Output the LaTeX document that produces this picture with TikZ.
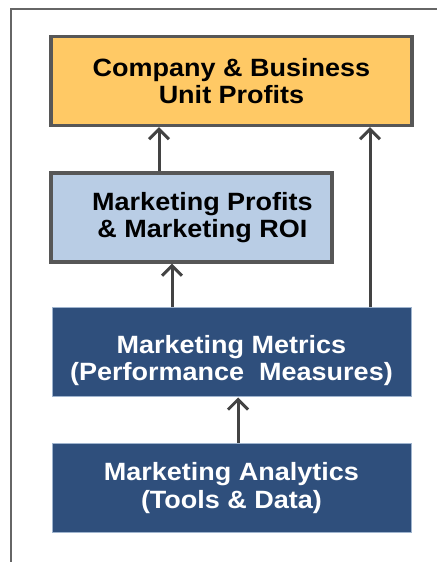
\documentclass[tikz,border=0pt]{standalone}
\usepackage{fontspec}
\setmainfont{Liberation Sans}[FakeStretch=1.08]
\usetikzlibrary{arrows.meta}

\definecolor{boxorange}{HTML}{FFC965}
\definecolor{boxlight}{HTML}{B9CDE5}
\definecolor{boxdark}{HTML}{2F4F7C}
\definecolor{boxdarkedge}{HTML}{9FB4CE}
\definecolor{edgegray}{HTML}{575757}
\definecolor{linkgray}{HTML}{434343}
\definecolor{framegray}{HTML}{666666}

\tikzset{
  box/.style={draw=edgegray, line width=1.6pt, minimum width=#1, minimum height=44.5pt, inner sep=0pt},
  darkbox/.style={draw=boxdarkedge, line width=0.5pt, fill=boxdark, minimum width=#1, minimum height=44.5pt, inner sep=0pt},
  boxtext/.style={align=center, font=\bfseries\fontsize{12.5}{13.8}\selectfont},
  link/.style={draw=linkgray, line width=1.5pt, -{Straight Barb[length=5pt,width=10pt]}}
}

\begin{document}
\begin{tikzpicture}[x=0.5pt,y=0.5pt]
\useasboundingbox (0,0) rectangle (437,562);

% outer frame, only top and left edges show
\draw[framegray, line width=1pt] (11,0) -- (11,553) -- (437,553);

% the four boxes
\node[box=180.5pt, fill=boxorange] (company) at (231.5,481) {};
\node[box=140.5pt, fill=boxlight] (roi) at (191.5,344.5) {};
\node[darkbox=179.5pt] (metrics) at (231.5,209.5) {};
\node[darkbox=179.5pt] (analytics) at (231.5,74) {};

\node[boxtext] (companytext) at (company) {Company \& Business\\Unit Profits};
\node[boxtext] (roitext) at ([xshift=5.5pt]roi.center) {Marketing Profits\\\& Marketing ROI};
\node[boxtext, text=white] (metricstext) at ([yshift=-4pt]metrics.center) {Marketing Metrics\\(Performance\ \ Measures)};
\node[boxtext, text=white] (analyticstext) at (analytics) {Marketing Analytics\\(Tools \& Data)};

% arrows
\draw[link] (159,0 |- roi.north) -- (159,0 |- company.south);
\draw[link] (370,0 |- metrics.north) -- (370,0 |- company.south);
\draw[link] (172,0 |- metrics.north) -- (172,0 |- roi.south);
\draw[link] (238,0 |- analytics.north) -- (238,0 |- metrics.south);
\end{tikzpicture}
\end{document}
